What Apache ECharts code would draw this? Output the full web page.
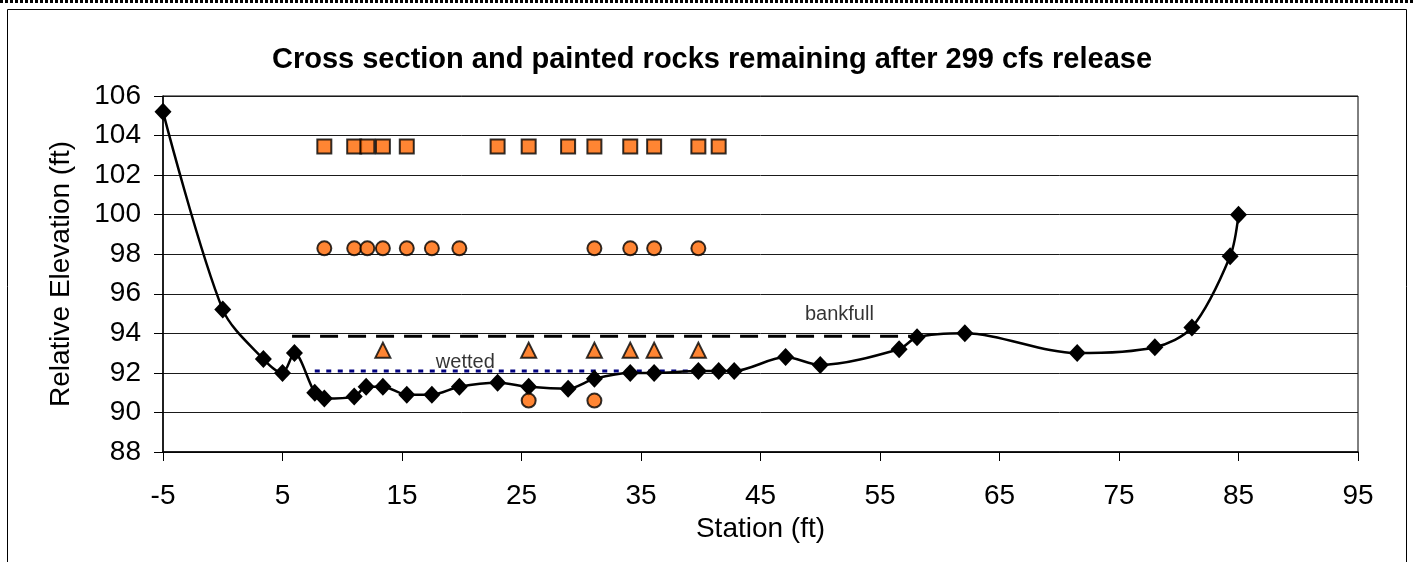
<!DOCTYPE html>
<html>
<head>
<meta charset="utf-8">
<script src="https://cdn.jsdelivr.net/npm/echarts@6/dist/echarts.min.js"></script>
<style>
html,body{margin:0;padding:0;background:#fff;}
#chart{width:1413px;height:562px;}
</style>
</head>
<body>
<div id="chart"></div>
<script>
// Cross-section survey (station ft, relative elevation ft)
const stations = [-5, 0, 3.4, 5, 6, 7.7, 8.5, 11, 12, 13.4, 15.4, 17.5, 19.8, 23, 25.6, 28.9, 31.1, 34.1, 36.1, 39.8, 41.5, 42.8, 47.1, 50, 56.6, 58.1, 62.1, 71.5, 78, 81.1, 84.3, 85];
const elevations = [105.2, 95.2, 92.7, 92.0, 93.0, 91.0, 90.7, 90.8, 91.3, 91.3, 90.9, 90.9, 91.3, 91.5, 91.3, 91.2, 91.7, 92.0, 92.0, 92.1, 92.1, 92.1, 92.8, 92.4, 93.2, 93.8, 94.0, 93.0, 93.3, 94.3, 97.9, 100.0];

// Painted rocks (orange markers)
const squareStations = [8.5, 11, 12.1, 13.4, 15.4, 23, 25.6, 28.9, 31.1, 34.1, 36.1, 39.8, 41.5];
const squareElev = [103.45, 103.45, 103.45, 103.45, 103.45, 103.45, 103.45, 103.45, 103.45, 103.45, 103.45, 103.45, 103.45];
const circleStations = [8.5, 11, 12.1, 13.4, 15.4, 17.5, 19.8, 31.1, 34.1, 36.1, 39.8];
const circleElev = [98.3, 98.3, 98.3, 98.3, 98.3, 98.3, 98.3, 98.3, 98.3, 98.3, 98.3];
const triangleStations = [13.4, 25.6, 31.1, 34.1, 36.1, 39.8];
const triangleElev = [93.15, 93.15, 93.15, 93.15, 93.15, 93.15];
const lowCircleStations = [25.6, 31.1];
const lowCircleElev = [90.6, 90.6];

// Reference water levels
const bankfullStations = [5.8, 58.1];
const bankfullElev = [93.85, 93.85];
const wettedStations = [7.7, 39.8];
const wettedElev = [92.1, 92.1];

// Text annotations
const noteText = ['bankfull', 'wetted'];
const noteStations = [51.6, 20.3];
const noteElev = [94.95, 92.55];

// Axis ticks
const xTicks = [-5, 5, 15, 25, 35, 45, 55, 65, 75, 85, 95];
const yTicks = [88, 90, 92, 94, 96, 98, 100, 102, 104, 106];

const zip = (xs, ys) => xs.map((x, i) => [x, ys[i]]);
const FONT = "'Liberation Sans', Arial, sans-serif";
const ORANGE = '#FF6600';

const chart = echarts.init(document.getElementById('chart'), null, {renderer: 'canvas'});
const rockStyle = {color: ORANGE, borderColor: '#000', borderWidth: 2};

chart.setOption({
  animation: false,
  backgroundColor: '#fff',
  title: {
    text: 'Cross section and painted rocks remaining after 299 cfs release',
    left: 707, top: 40, textAlign: 'center',
    textStyle: {fontFamily: FONT, fontSize: 29, fontWeight: 'bold', color: '#000'}
  },
  graphic: [
    {type: 'rect', shape: {x: 7.5, y: 9.5, width: 1399, height: 620},
     style: {fill: 'none', stroke: '#000', lineWidth: 1}, silent: true, z: -1},
    {type: 'line', shape: {x1: 0, y1: 1.5, x2: 1413, y2: 1.5},
     style: {stroke: '#000', lineWidth: 3, lineDash: [3, 2]}, silent: true}
  ],
  grid: {left: 163, right: 55, top: 96, bottom: 110, show: true, borderColor: '#000', borderWidth: 1},
  xAxis: {
    type: 'value', min: xTicks[0], max: xTicks[xTicks.length - 1], interval: 10,
    name: 'Station (ft)', nameLocation: 'middle', nameGap: 63,
    nameTextStyle: {fontFamily: FONT, fontSize: 28, color: '#000'},
    axisLine: {onZero: false, lineStyle: {color: '#000', width: 1.5}},
    axisTick: {show: true, length: 9, lineStyle: {color: '#000'}},
    axisLabel: {fontFamily: FONT, fontSize: 28, color: '#000', margin: 30},
    splitLine: {show: false}
  },
  yAxis: {
    type: 'value', min: yTicks[0], max: yTicks[yTicks.length - 1], interval: 2,
    name: 'Relative Elevation (ft)', nameLocation: 'middle', nameGap: 88,
    nameTextStyle: {fontFamily: FONT, fontSize: 28, color: '#000'},
    axisLine: {show: true, onZero: false, lineStyle: {color: '#000', width: 1.5}},
    axisTick: {show: true, length: 9, lineStyle: {color: '#000'}},
    axisLabel: {fontFamily: FONT, fontSize: 28, color: '#000', margin: 22},
    splitLine: {show: true, lineStyle: {color: '#1a1a1a', width: 1}}
  },
  series: [
    {
      name: 'bankfull', type: 'line', data: zip(bankfullStations, bankfullElev),
      symbol: 'none', lineStyle: {color: '#000', width: 3, type: [18, 10]}, z: 2
    },
    {
      name: 'wetted', type: 'line', data: zip(wettedStations, wettedElev),
      symbol: 'none', lineStyle: {color: '#000080', width: 3, type: [5, 6.5]}, z: 2
    },
    {
      name: 'Cross section', type: 'line', data: zip(stations, elevations),
      smooth: 0.3, symbol: 'diamond', symbolSize: [17, 18],
      itemStyle: {color: '#000'}, lineStyle: {color: '#000', width: 2.5}, z: 3
    },
    {name: 'Squares', type: 'scatter', data: zip(squareStations, squareElev),
     symbol: 'rect', symbolSize: 14, itemStyle: rockStyle, z: 4},
    {name: 'Circles', type: 'scatter', data: zip(circleStations, circleElev),
     symbol: 'circle', symbolSize: 14, itemStyle: rockStyle, z: 4},
    {name: 'Triangles', type: 'scatter', data: zip(triangleStations, triangleElev),
     symbol: 'triangle', symbolSize: 15, itemStyle: rockStyle, z: 4},
    {name: 'Low circles', type: 'scatter', data: zip(lowCircleStations, lowCircleElev),
     symbol: 'circle', symbolSize: 14, itemStyle: rockStyle, z: 4},
    {
      name: 'Notes', type: 'scatter', symbolSize: 0, silent: true, z: 5,
      data: noteText.map((t, i) => ({value: [noteStations[i], noteElev[i]], name: t})),
      label: {show: true, position: 'inside', formatter: p => p.name,
              fontFamily: FONT, fontSize: 20, color: '#000'}
    }
  ]
});
</script>
</body>
</html>
